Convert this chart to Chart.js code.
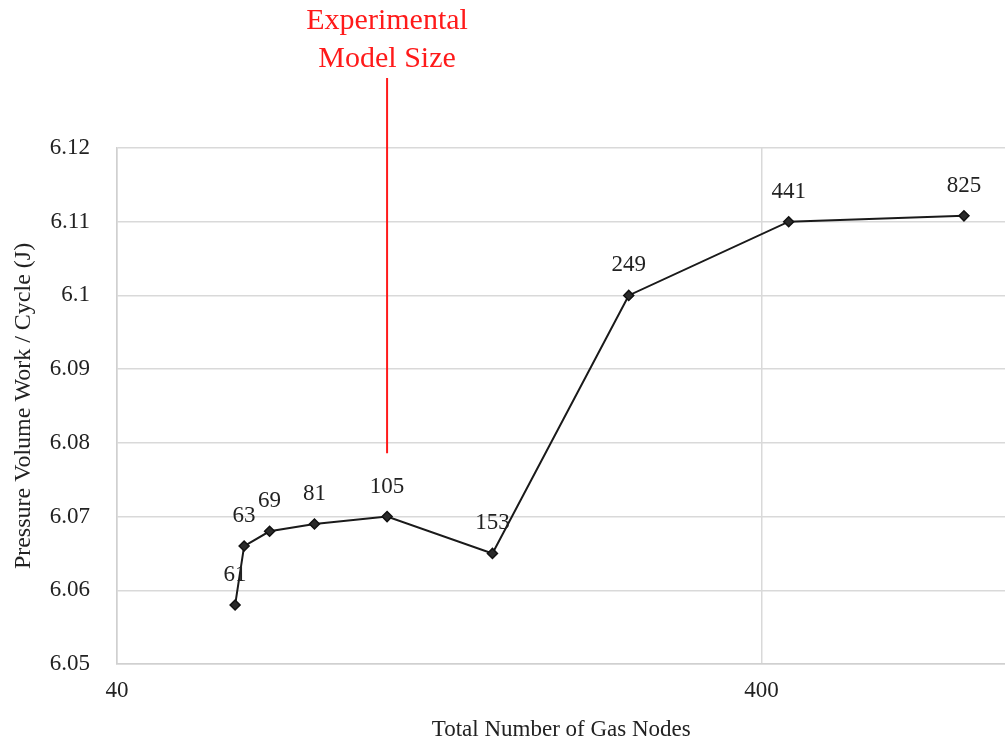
<!DOCTYPE html>
<html>
<head>
<meta charset="utf-8">
<script src="https://cdn.jsdelivr.net/npm/chart.js@4/dist/chart.umd.min.js"></script>
<style>
  html, body { margin: 0; padding: 0; background: #fff; overflow: hidden; }
  #wrap { width: 1005px; height: 744px; overflow: hidden; }
  #c { display: block; }
</style>
</head>
<body>
<div id="wrap"><canvas id="c" width="1012" height="744"></canvas></div>
<script>
// Grid size study: gas node count vs. pressure-volume work per cycle
const gasNodes = [61, 63, 69, 81, 105, 153, 249, 441, 825];
const pvWork = [6.058, 6.066, 6.068, 6.069, 6.070, 6.065, 6.100, 6.110, 6.1108];
const xTickValues = [40, 400];
const experimentalSize = 105;
const markerLineBottom = 6.0786;
const markerLabel = ['Experimental', 'Model Size'];

const serif = '"Liberation Serif", "Times New Roman", serif';

// Node-count labels above each point
const pointLabels = {
  id: 'pointLabels',
  afterDatasetsDraw(chart) {
    const ctx = chart.ctx;
    const meta = chart.getDatasetMeta(0);
    ctx.save();
    ctx.font = '23px ' + serif;
    ctx.fillStyle = '#222';
    ctx.textAlign = 'center';
    ctx.textBaseline = 'middle';
    meta.data.forEach((pt, i) => {
      ctx.fillText(String(gasNodes[i]), pt.x, pt.y - 30);
    });
    ctx.restore();
  }
};

// Red marker for the experimental model size
const experimentalMarker = {
  id: 'experimentalMarker',
  afterDraw(chart) {
    const ctx = chart.ctx;
    const xs = chart.scales.x, ys = chart.scales.y;
    const x = xs.getPixelForValue(experimentalSize);
    const yBottom = ys.getPixelForValue(markerLineBottom);
    const yTop = chart.chartArea.top - 70;
    ctx.save();
    ctx.strokeStyle = '#ff1a1a';
    ctx.lineWidth = 2;
    ctx.beginPath();
    ctx.moveTo(x, yTop);
    ctx.lineTo(x, yBottom);
    ctx.stroke();
    ctx.font = '30px ' + serif;
    ctx.fillStyle = '#ff1a1a';
    ctx.textAlign = 'center';
    ctx.textBaseline = 'middle';
    ctx.fillText(markerLabel[0], x, yTop - 57);
    ctx.fillText(markerLabel[1], x, yTop - 19);
    ctx.restore();
  }
};

new Chart(document.getElementById('c'), {
  type: 'line',
  data: {
    datasets: [{
      data: gasNodes.map((n, i) => ({ x: n, y: pvWork[i] })),
      borderColor: '#1a1a1a',
      borderWidth: 2,
      pointStyle: 'rectRot',
      pointRadius: 5,
      pointBackgroundColor: '#2a2a2a',
      pointBorderColor: '#111',
      pointBorderWidth: 1.5,
      tension: 0
    }]
  },
  options: {
    responsive: false,
    animation: false,
    layout: { padding: { top: 148, right: 0, bottom: 0, left: 0 } },
    plugins: { legend: { display: false }, tooltip: { enabled: false } },
    scales: {
      x: {
        type: 'logarithmic',
        min: 40,
        max: 957,
        afterBuildTicks(scale) { scale.ticks = xTickValues.map(v => ({ value: v })); },
        afterFit(scale) { scale.height = 80; },
        grid: { color: '#d9d9d9', lineWidth: 1.5, drawTicks: false },
        border: { color: '#d0d0d0', width: 1.5 },
        ticks: {
          padding: 13,
          color: '#222',
          font: { family: serif, size: 23 },
          maxRotation: 0,
          autoSkip: false,
          callback: v => String(v)
        },
        title: {
          display: true,
          text: 'Total Number of Gas Nodes',
          color: '#222',
          font: { family: serif, size: 23 },
          padding: { top: 0, bottom: 0 }
        }
      },
      y: {
        min: 6.05,
        max: 6.12,
        afterFit(scale) { scale.width = 117; },
        grid: { color: '#d9d9d9', lineWidth: 1.5, drawTicks: false },
        border: { color: '#d0d0d0', width: 1.5 },
        ticks: {
          stepSize: 0.01,
          padding: 27,
          color: '#222',
          font: { family: serif, size: 23 },
          callback: v => String(Number(v.toFixed(2)))
        },
        title: {
          display: true,
          text: 'Pressure Volume Work / Cycle (J)',
          color: '#222',
          font: { family: serif, size: 24 },
          padding: { top: 9, bottom: 0 }
        }
      }
    }
  },
  plugins: [pointLabels, experimentalMarker]
});
</script>
</body>
</html>
